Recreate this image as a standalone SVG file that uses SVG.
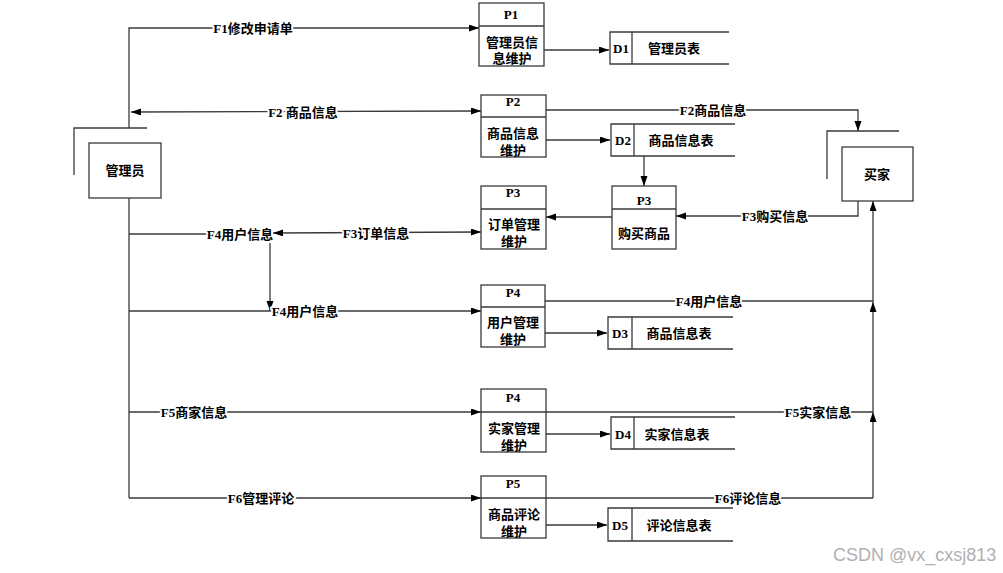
<svg xmlns="http://www.w3.org/2000/svg" width="1003" height="573" viewBox="0 0 1003 573">
<defs>
<marker id="ar" markerUnits="userSpaceOnUse" markerWidth="11" markerHeight="8" refX="10" refY="3.5" orient="auto-start-reverse">
<path d="M0,0 L10,3.5 L0,7 z" fill="#000"/>
</marker>
<style>
.ln{fill:none;stroke:#3a3a3a;stroke-width:1.3}
.bx{fill:#fff;stroke:#3a3a3a;stroke-width:1.3}
.ds{fill:none;stroke:#3a3a3a;stroke-width:1.3}
text{font-family:"Liberation Serif","Noto Sans CJK SC",serif;font-weight:bold;font-size:13px;fill:#000;text-anchor:middle;dominant-baseline:central}
.lb{stroke:#fff;stroke-width:4;paint-order:stroke;stroke-linejoin:round}
.wm{font-family:"Liberation Sans",Arial,sans-serif;font-weight:normal;font-size:18px;fill:#b0b0b0;text-anchor:start}
</style>
</defs>
<rect width="1003" height="573" fill="#fff"/>

<g id="connectors">
<path class="ln" d="M129,128 V28 H479" marker-end="url(#ar)"/>
<line class="ln" x1="131" y1="112" x2="481" y2="111" marker-start="url(#ar)" marker-end="url(#ar)"/>
<path class="ln" d="M546,110 H858 V131" marker-end="url(#ar)"/>
<path class="ln" d="M544,50 H609" marker-end="url(#ar)"/>
<path class="ln" d="M546,140 H610" marker-end="url(#ar)"/>
<path class="ln" d="M644,156 V186" marker-end="url(#ar)"/>
<path class="ln" d="M612,217 H546" marker-end="url(#ar)"/>
<path class="ln" d="M858,201 V216 H676" marker-end="url(#ar)"/>
<path class="ln" d="M129,198 V498"/>
<path class="ln" d="M129,234 H210"/>
<line class="ln" x1="273" y1="233" x2="481" y2="232" marker-start="url(#ar)" marker-end="url(#ar)"/>
<path class="ln" d="M270,243 V311" marker-end="url(#ar)"/>
<path class="ln" d="M129,311 H481" marker-end="url(#ar)"/>
<path class="ln" d="M545,301 H873"/>
<path class="ln" d="M545,333 H607" marker-end="url(#ar)"/>
<path class="ln" d="M129,412 H481" marker-end="url(#ar)"/>
<path class="ln" d="M546,412 H873"/>
<path class="ln" d="M546,434 H610" marker-end="url(#ar)"/>
<path class="ln" d="M129,498 H481" marker-end="url(#ar)"/>
<path class="ln" d="M546,498 H873"/>
<path class="ln" d="M546,525 H607" marker-end="url(#ar)"/>
<path class="ln" d="M873,498 V412" marker-end="url(#ar)"/>
<path class="ln" d="M873,412 V302" marker-end="url(#ar)"/>
<path class="ln" d="M873,302 V201" marker-end="url(#ar)"/>
<text class="lb" x="253" y="28">F1修改申请单</text>
<text class="lb" x="303" y="112">F2 商品信息</text>
<text class="lb" x="713" y="110">F2商品信息</text>
<text class="lb" x="775" y="216">F3购买信息</text>
<text class="lb" x="240" y="234">F4用户信息</text>
<text class="lb" x="376" y="233">F3订单信息</text>
<text class="lb" x="305" y="311">F4用户信息</text>
<text class="lb" x="709" y="301">F4用户信息</text>
<text class="lb" x="194" y="412">F5商家信息</text>
<text class="lb" x="818" y="412">F5实家信息</text>
<text class="lb" x="261" y="498">F6管理评论</text>
<text class="lb" x="748" y="498">F6评论信息</text>
</g>

<g id="admin">
<path class="ds" d="M74,175 V128 H147"/>
<rect class="bx" x="89" y="143" width="72" height="55"/>
<text x="125" y="170">管理员</text>
</g>

<g id="buyer">
<path class="ds" d="M827,179 V131 H899"/>
<rect class="bx" x="842" y="147" width="71" height="54"/>
<text x="877" y="174">买家</text>
</g>

<g id="P1">
<rect class="bx" x="479" y="3" width="65" height="63"/>
<line class="ln" x1="479" y1="26" x2="544" y2="26"/>
<text x="511" y="14">P1</text>
<text x="512" y="42">管理员信</text>
<text x="512" y="58">息维护</text>
</g>

<g id="P2">
<rect class="bx" x="481" y="95" width="65" height="62"/>
<line class="ln" x1="481" y1="117" x2="546" y2="117"/>
<text x="513" y="101">P2</text>
<text x="513" y="133">商品信息</text>
<text x="513" y="150">维护</text>
</g>

<g id="P3a">
<rect class="bx" x="481" y="186" width="65" height="63"/>
<line class="ln" x1="481" y1="209" x2="546" y2="209"/>
<text x="513" y="192">P3</text>
<text x="514" y="224">订单管理</text>
<text x="514" y="241">维护</text>
</g>

<g id="P3b">
<rect class="bx" x="612" y="186" width="64" height="63"/>
<line class="ln" x1="612" y1="209" x2="676" y2="209"/>
<text x="644" y="200">P3</text>
<text x="644" y="233">购买商品</text>
</g>

<g id="P4a">
<rect class="bx" x="481" y="285" width="64" height="62"/>
<line class="ln" x1="481" y1="307" x2="545" y2="307"/>
<text x="513" y="292">P4</text>
<text x="513" y="322">用户管理</text>
<text x="513" y="339">维护</text>
</g>

<g id="P4b">
<rect class="bx" x="481" y="389" width="65" height="63"/>
<line class="ln" x1="481" y1="412" x2="546" y2="412"/>
<text x="513" y="397">P4</text>
<text x="514" y="428">实家管理</text>
<text x="514" y="445">维护</text>
</g>

<g id="P5">
<rect class="bx" x="481" y="476" width="65" height="62"/>
<line class="ln" x1="481" y1="498" x2="546" y2="498"/>
<text x="513" y="483">P5</text>
<text x="514" y="514">商品评论</text>
<text x="514" y="531">维护</text>
</g>

<g id="D1">
<path class="ds" d="M729,32 H610 V64 H729 M632,32 V64"/>
<text x="621" y="48">D1</text>
<text x="674" y="48">管理员表</text>
</g>
<g id="D2">
<path class="ds" d="M735,124 H611 V156 H735 M634,124 V156"/>
<text x="623" y="140">D2</text>
<text x="681" y="140">商品信息表</text>
</g>
<g id="D3">
<path class="ds" d="M733,317 H608 V349 H733 M632,317 V349"/>
<text x="620" y="333">D3</text>
<text x="679" y="333">商品信息表</text>
</g>
<g id="D4">
<path class="ds" d="M735,417 H611 V449 H735 M634,417 V449"/>
<text x="623" y="434">D4</text>
<text x="677" y="434">实家信息表</text>
</g>
<g id="D5">
<path class="ds" d="M733,508 H608 V541 H733 M632,508 V541"/>
<text x="620" y="525">D5</text>
<text x="679" y="525">评论信息表</text>
</g>

<text class="wm" x="833" y="555">CSDN @vx_cxsj813</text>
</svg>
